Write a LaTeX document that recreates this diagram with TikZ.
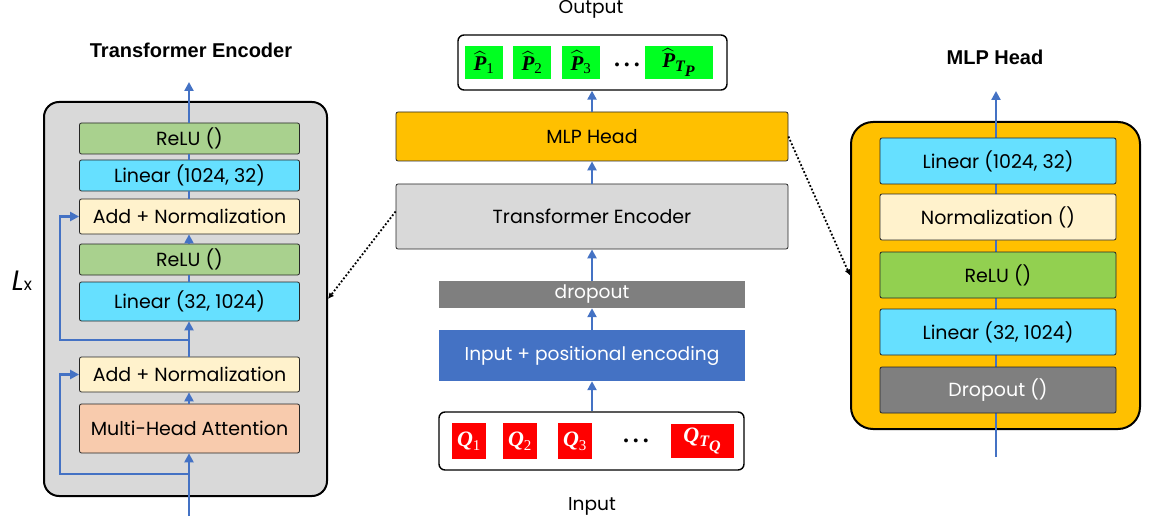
\documentclass[tikz,border=0pt]{standalone}
\usepackage{fontspec}
\usepackage{amsmath}
\setmainfont{Poppins}
\newfontfamily\ttl{Liberation Sans}
\newfontfamily\tms{Liberation Serif}
\usetikzlibrary{arrows.meta}
\definecolor{cblue}{HTML}{4472C4}
\definecolor{cltgray}{HTML}{D9D9D9}
\definecolor{cgreenA}{HTML}{A9D18E}
\definecolor{ccyan}{HTML}{66E0FF}
\definecolor{ccream}{HTML}{FFF2CC}
\definecolor{cpeach}{HTML}{F8CBAD}
\definecolor{corange}{HTML}{FFC000}
\definecolor{cgreenB}{HTML}{92D050}
\definecolor{cgray}{HTML}{7F7F7F}
\definecolor{cpgreen}{HTML}{00FF21}
\definecolor{cred}{HTML}{FF0000}
\tikzset{
  layer/.style={draw=black!85, line width=0.8pt, rounded corners=2pt, inner sep=0pt,
    font=\fontsize{19}{22}\selectfont},
  panel/.style={draw=black, line width=2pt, inner sep=0pt},
  flow/.style={draw=cblue, line width=2.8pt},
  flowar/.style={flow, -{Triangle[length=9pt,width=9pt]}},
  dotar/.style={dotted, line width=1.8pt, -{Latex[length=6pt,width=6pt]}},
  tok/.style={inner sep=0pt, draw=none},
  lbl/.style={font=\fontsize{18.6}{22}\selectfont, inner sep=0pt},
  ttlstyle/.style={font=\ttl\bfseries\fontsize{20}{23}\selectfont, inner sep=0pt},
  dotsstyle/.style={inner sep=0pt, font=\tms\bfseries\fontsize{24}{24}\selectfont}
}
\newcommand\phat[1]{$\widehat{\text{\tms\bfseries\itshape P}}_{#1}$}
\newcommand\qtok[1]{$\text{\tms\bfseries\itshape Q}_{#1}$}
\newcommand\sub[1]{\text{\tms\fontsize{15}{15}\selectfont #1}}
\newcommand\subbi[1]{\text{\tms\bfseries\itshape\fontsize{16}{16}\selectfont #1}}
\newcommand\threedots{.\hspace{4pt}.\hspace{4pt}.}
\begin{document}
\begin{tikzpicture}[x=1pt,y=-1pt]
\useasboundingbox (0,0) rectangle (1149,524);

% ---------- Left panel: Transformer Encoder ----------
\node[ttlstyle] (ltitle) at (191,50) {Transformer Encoder};
\node[inner sep=0pt] (lx) at (22,281) {{\fontsize{28}{28}\selectfont\itshape L}{\fontsize{17}{17}\selectfont x}};
\node[panel, fill=cltgray, rounded corners=15pt, minimum width=283pt, minimum height=394pt] (lpanel) at (185.5,299) {};

\coordinate (lbot) at (189,516);
\coordinate (ltop) at (189,82);
\node[layer, fill=cgreenA, minimum width=220pt, minimum height=31pt] (reluA) at (189.5,138.5) {ReLU ()};
\node[layer, fill=ccyan, minimum width=220pt, minimum height=31pt] (linA) at (189.5,175.5) {Linear (1024, 32)};
\node[layer, fill=ccream, minimum width=220pt, minimum height=35pt] (addA) at (189.5,216.5) {Add + Normalization};
\node[layer, fill=cgreenA, minimum width=220pt, minimum height=31pt] (reluB) at (189.5,259.5) {ReLU ()};
\node[layer, fill=ccyan, minimum width=220pt, minimum height=39pt] (linB) at (189.5,301.5) {Linear (32, 1024)};
\node[layer, fill=ccream, minimum width=220pt, minimum height=35pt] (addB) at (189.5,374.5) {Add + Normalization};
\node[layer, fill=cpeach, minimum width=220pt, minimum height=49pt] (mha) at (189.5,428.5) {Multi-Head Attention};

\draw[flowar] (lbot) -- (mha.south -| lbot);
\draw[flowar] (mha.north -| lbot) -- (addB.south -| lbot);
\draw[flowar] (addB.north -| lbot) -- (linB.south -| lbot);
\draw[flow] (linB.north -| lbot) -- (reluB.south -| lbot);
\draw[flowar] (reluB.north -| lbot) -- (addA.south -| lbot);
\draw[flow] (addA.north -| lbot) -- (linA.south -| lbot);
\draw[flow] (linA.north -| lbot) -- (reluA.south -| lbot);
\draw[flowar] (reluA.north -| lbot) -- (ltop);

\coordinate (res1) at (189,474);
\coordinate (res2) at (189,340);
\draw[flowar] (res1) -- ++(-129,0) |- (addB.west);
\draw[flowar] (res2) -- ++(-129,0) |- (addA.west);

% ---------- Middle column ----------
\node[lbl] (outlbl) at (591,9) {Output};
\node[draw=black, line width=1.4pt, rounded corners=6pt, fill=white, minimum width=269pt, minimum height=55pt] (outbox) at (592.5,62.5) {};
\node[tok, fill=cpgreen, minimum width=38pt, minimum height=33pt] (p1) at (484,62.5) {\fontsize{21}{21}\selectfont\phat{\sub{1}}};
\node[tok, fill=cpgreen, minimum width=38pt, minimum height=33pt] (p2) at (532,62.5) {\fontsize{21}{21}\selectfont\phat{\sub{2}}};
\node[tok, fill=cpgreen, minimum width=38pt, minimum height=33pt] (p3) at (581,62.5) {\fontsize{21}{21}\selectfont\phat{\sub{3}}};
\node[dotsstyle] (pdots) at (627,65) {\threedots};
\node[tok, fill=cpgreen, minimum width=68pt, minimum height=33pt] (pT) at (679,62.5) {\fontsize{21}{21}\selectfont\phat{\subbi{T}_{\subbi{P}}}};

\node[layer, fill=corange, minimum width=392pt, minimum height=49pt] (mlp) at (592,136.5) {MLP Head};
\node[layer, fill=cltgray, minimum width=392pt, minimum height=65pt] (te) at (592,216.5) {Transformer Encoder};
\node[lbl, fill=cgray, text=white, minimum width=306pt, minimum height=27pt] (drop) at (592,294.5) {dropout};
\node[lbl, fill=cblue, text=white, minimum width=306pt, minimum height=51pt] (pe) at (592,355.5) {Input + positional encoding};
\node[draw=black, line width=1.4pt, rounded corners=6pt, fill=white, minimum width=305pt, minimum height=58pt] (inbox) at (591.5,441) {};
\node[tok, fill=cred, text=white, minimum width=34pt, minimum height=36pt] (q1) at (469,441) {\fontsize{22}{22}\selectfont\qtok{\sub{1}}};
\node[tok, fill=cred, text=white, minimum width=34pt, minimum height=36pt] (q2) at (520,441) {\fontsize{22}{22}\selectfont\qtok{\sub{2}}};
\node[tok, fill=cred, text=white, minimum width=34pt, minimum height=36pt] (q3) at (575,441) {\fontsize{22}{22}\selectfont\qtok{\sub{3}}};
\node[dotsstyle] (qdots) at (636,441) {\threedots};
\node[tok, fill=cred, text=white, minimum width=63pt, minimum height=34pt] (qT) at (702.5,441) {\fontsize{22}{22}\selectfont\qtok{\subbi{T}_{\subbi{Q}}}};
\node[lbl] (inlbl) at (592,506) {Input};

\draw[flowar] (inbox.north -| pe.south) -- (pe.south);
\draw[flowar] (pe.north) -- (drop.south);
\draw[flowar] (drop.north) -- (te.south);
\draw[flowar] (te.north) -- (mlp.south);
\draw[flowar] (mlp.north) -- (outbox.south -| mlp.north);

% ---------- Right panel: MLP Head ----------
\node[ttlstyle] (rtitle) at (995,57) {MLP Head};
\node[panel, fill=corange, rounded corners=22pt, minimum width=289pt, minimum height=307pt] (rpanel) at (995.5,275.5) {};
\coordinate (rbot) at (996,457);
\coordinate (rtop) at (996,91);
\draw[flowar] (rbot) -- (rtop);
\node[layer, fill=ccyan, minimum width=236pt, minimum height=46pt] (rlin1) at (998,161) {Linear (1024, 32)};
\node[layer, fill=ccream, minimum width=236pt, minimum height=46pt] (rnorm) at (998,217) {Normalization ()};
\node[layer, fill=cgreenB, minimum width=236pt, minimum height=46pt] (rrelu) at (998,275) {ReLU ()};
\node[layer, fill=ccyan, minimum width=236pt, minimum height=46pt] (rlin2) at (998,332) {Linear (32, 1024)};
\node[layer, fill=cgray, text=white, minimum width=236pt, minimum height=46pt] (rdrop) at (998,390) {Dropout ()};

% ---------- Dotted zoom connectors ----------
\draw[dotar] ([yshift=5pt]te.west) -- (lpanel.east);
\draw[dotar] (mlp.east) -- (rpanel.west);
\end{tikzpicture}
\end{document}
